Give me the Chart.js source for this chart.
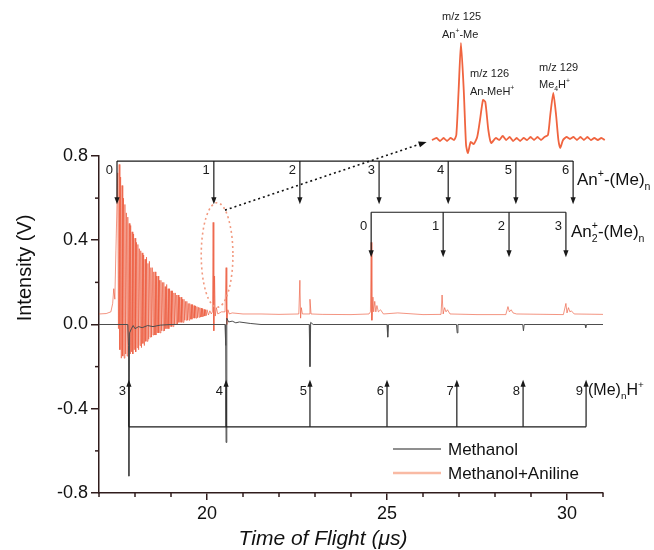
<!DOCTYPE html>
<html>
<head>
<meta charset="utf-8">
<script src="https://cdn.jsdelivr.net/npm/chart.js@4.4.1/dist/chart.umd.min.js"></script>
<style>
  body { margin: 0; background: #fff; }
  #wrap { position: relative; width: 654px; height: 550px; }
  #mainChart { position: absolute; left: 0; top: 0; }
  #insetChart { position: absolute; left: 425px; top: 0; }
</style>
</head>
<body>
<div id="wrap">
  <canvas id="mainChart" width="654" height="550"></canvas>
  <canvas id="insetChart" width="190" height="160"></canvas>
</div>
<script>
// ---- data ----
const methanolTime = [17.0, 17.5, 17.8, 17.82, 17.83, 17.85, 17.9, 17.95, 18.0, 18.1, 18.2, 18.35, 18.5, 18.7, 19.0, 20.5,
  20.52, 20.53, 20.55, 20.6, 20.7, 20.8, 20.9, 21.2, 21.5, 22.84, 22.86, 22.88, 22.95, 25.0, 25.02, 25.04,
  26.93, 26.95, 26.97, 28.77, 28.79, 28.81, 30.5, 30.52, 30.54, 31.0];
const methanolIntensity = [0.0, 0.0, 0.0, -0.1, -0.72, -0.04, -0.02, -0.005, -0.02, -0.01, -0.015, -0.005, -0.01, -0.003, 0.0, 0.0,
  -0.1, -0.56, 0.03, 0.012, 0.016, 0.008, 0.012, 0.005, 0.0, 0.0, -0.2, 0.01, 0.0, 0.0, -0.06, 0.0,
  0.0, -0.04, 0.0, 0.0, -0.03, 0.0, 0.0, -0.015, 0.0, 0.0];

// rising edge, ringing (17.52-19.98) and the later peaks
const anilineTime = [17.0, 17.2, 17.33, 17.38, 17.41, 17.44, 17.47,
  17.52, 17.54, 17.56, 17.58, 17.60, 17.62, 17.64, 17.66, 17.68, 17.70, 17.72, 17.74, 17.76, 17.78, 17.80, 17.82,
  17.84, 17.86, 17.88, 17.90, 17.92, 17.94, 17.96, 17.98, 18.00, 18.02, 18.04, 18.06, 18.08, 18.10, 18.12, 18.14,
  18.16, 18.18, 18.20, 18.22, 18.24, 18.26, 18.28, 18.30, 18.32, 18.34, 18.36, 18.38, 18.40, 18.42, 18.44, 18.46,
  18.48, 18.50, 18.52, 18.54, 18.56, 18.58, 18.60, 18.62, 18.64, 18.66, 18.68, 18.70, 18.72, 18.74, 18.76, 18.78,
  18.80, 18.82, 18.84, 18.86, 18.88, 18.90, 18.92, 18.94, 18.96, 18.98, 19.00, 19.02, 19.04, 19.06, 19.08, 19.10,
  19.12, 19.14, 19.16, 19.18, 19.20, 19.22, 19.24, 19.26, 19.28, 19.30, 19.32, 19.34, 19.36, 19.38, 19.40, 19.42,
  19.44, 19.46, 19.48, 19.50, 19.52, 19.54, 19.56, 19.58, 19.60, 19.62, 19.64, 19.66, 19.68, 19.70, 19.72, 19.74,
  19.76, 19.78, 19.80, 19.82, 19.84, 19.86, 19.88, 19.90, 19.92, 19.94, 19.96, 19.98,
  20.0, 20.04, 20.08, 20.12, 20.15, 20.17, 20.19, 20.21, 20.23, 20.26, 20.3, 20.4, 20.5, 20.53, 20.55, 20.58, 20.62, 20.7,
  21.0, 21.5, 22.0, 22.55, 22.58, 22.60, 22.62, 22.65, 22.84, 22.86, 22.89, 23.2, 24.0, 24.5, 24.54, 24.56, 24.58,
  24.61, 24.63, 24.66, 24.69, 24.72, 24.76, 24.82, 24.9, 25.3, 26.0, 26.5, 26.53, 26.56, 26.6, 26.64, 26.68, 26.75,
  27.5, 28.3, 28.36, 28.4, 28.45, 28.5, 28.6, 29.9, 29.97, 30.0, 30.04, 30.08, 30.12, 30.2, 31.0];
const anilineIntensity = [0.05, 0.052, 0.06, 0.10, 0.17, 0.12, 0.35,
  0.72, -0.02, 0.76, -0.12, 0.70, -0.16, 0.66, -0.15, 0.60, -0.16, 0.57, -0.14, 0.53, -0.15, 0.51, -0.13,
  0.48, -0.14, 0.47, -0.13, 0.44, -0.14, 0.43, -0.12, 0.41, -0.13, 0.39, -0.11, 0.38, -0.12, 0.36, -0.10,
  0.35, -0.11, 0.34, -0.09, 0.33, -0.10, 0.31, -0.08, 0.32, -0.08, 0.29, -0.07, 0.30, -0.06, 0.27, -0.06,
  0.27, -0.05, 0.25, -0.05, 0.25, -0.05, 0.23, -0.04, 0.23, -0.04, 0.21, -0.04, 0.21, -0.03, 0.20, -0.03,
  0.20, -0.03, 0.18, -0.02, 0.19, -0.02, 0.17, -0.02, 0.17, -0.01, 0.16, -0.01, 0.16, -0.01, 0.15, 0.0,
  0.15, 0.0, 0.14, 0.0, 0.14, 0.01, 0.13, 0.01, 0.13, 0.01, 0.12, 0.01, 0.12, 0.02, 0.11, 0.02,
  0.11, 0.02, 0.10, 0.02, 0.10, 0.025, 0.095, 0.025, 0.095, 0.03, 0.09, 0.03, 0.088, 0.03, 0.085, 0.032,
  0.082, 0.034, 0.08, 0.035, 0.078, 0.036, 0.075, 0.038, 0.072, 0.04, 0.07, 0.042,
  0.07, 0.045, 0.065, 0.05, 0.06, 0.485, -0.03, 0.23, 0.04, 0.08, 0.05, 0.06, 0.06, 0.27, 0.0, 0.07, 0.05, 0.055,
  0.05, 0.05, 0.048, 0.05, 0.21, 0.03, 0.08, 0.05, 0.05, 0.12, 0.05, 0.048, 0.047, 0.05, 0.06, 0.39, 0.02,
  0.13, 0.06, 0.11, 0.06, 0.09, 0.06, 0.07, 0.05, 0.055, 0.047, 0.048, 0.14, 0.05, 0.08, 0.06, 0.07, 0.05,
  0.047, 0.047, 0.085, 0.06, 0.07, 0.055, 0.05, 0.047, 0.10, 0.055, 0.08, 0.06, 0.065, 0.05, 0.048];

// zoomed inset (m/z axis)
const insetMz = [123.75, 123.95, 124.1, 124.25, 124.4, 124.55, 124.7, 124.8, 124.9, 125.0, 125.12, 125.22, 125.3, 125.42,
  125.55, 125.7, 125.82, 125.95, 126.05, 126.18, 126.3, 126.5, 126.65, 126.8, 126.95, 127.1, 127.25, 127.4, 127.55,
  127.7, 127.85, 128.0, 128.15, 128.3, 128.45, 128.6, 128.75, 128.85, 128.98, 129.1, 129.2, 129.28, 129.4, 129.55,
  129.7, 129.85, 130.0, 130.15, 130.3, 130.45, 130.6, 130.75, 130.9, 131.05, 131.2];
const insetIntensity = [0.0, 0.02, -0.01, 0.02, -0.01, 0.02, 0.0, 0.05, 0.5, 0.97, 0.5, -0.05, -0.13, -0.02,
  -0.04, 0.03, 0.2, 0.4, 0.38, 0.1, -0.03, 0.02, 0.0, 0.04, 0.0, 0.03, -0.01, 0.02, -0.01,
  0.02, 0.0, 0.03, 0.0, 0.03, 0.0, 0.03, 0.05, 0.25, 0.47, 0.25, 0.0, -0.08, 0.0, 0.03,
  0.01, 0.03, 0.0, 0.03, 0.0, 0.03, 0.0, 0.02, 0.0, 0.02, 0.0];

// assignment ladders (time of flight, us)
const anPlusTimes = [17.5, 20.19, 22.58, 24.78, 26.7, 28.58, 30.17];
const anPlusLabels = ['0', '1', '2', '3', '4', '5', '6'];
const an2PlusTimes = [24.56, 26.56, 28.39, 29.97];
const an2PlusLabels = ['0', '1', '2', '3'];
const meHTimes = [17.83, 20.53, 22.86, 25.0, 26.94, 28.78, 30.53];
const meHLabels = ['3', '4', '5', '6', '7', '8', '9'];

const xMajorTicks = [20, 25, 30];
const yMajorTicks = [-0.8, -0.4, 0.0, 0.4, 0.8];

const FONT = '"Liberation Sans", Arial, sans-serif';
const AXIS = '#301c1c';

function toPts(xs, ys) { return xs.map((v, i) => ({ x: v, y: ys[i] })); }

// text with sub/superscripts; parts: {t, s: 0 normal, 1 sup, -1 sub, st: stacked sup}
function rich(ctx, parts, x, y, size) {
  let cx = x;
  ctx.textAlign = 'left';
  ctx.textBaseline = 'alphabetic';
  for (const p of parts) {
    if (!p.s) {
      ctx.font = size + 'px ' + FONT;
      ctx.fillText(p.t, cx, y);
      cx += ctx.measureText(p.t).width;
    } else {
      ctx.font = (size * 0.62) + 'px ' + FONT;
      const dy = p.s > 0 ? -size * 0.45 : size * 0.28;
      ctx.fillText(p.t, cx, y + dy);
      let w = ctx.measureText(p.t).width;
      if (p.st) {
        ctx.fillText(p.st, cx, y - size * 0.45);
        w = Math.max(w, ctx.measureText(p.st).width);
      }
      cx += w;
    }
  }
}

function arrowHead(ctx, x, y, dir) {
  // dir 1 = pointing down, -1 = pointing up
  ctx.beginPath();
  ctx.moveTo(x, y);
  ctx.lineTo(x - 2.6, y - 7 * dir);
  ctx.lineTo(x + 2.6, y - 7 * dir);
  ctx.closePath();
  ctx.fill();
}

function ladder(ctx, xs, yLine, yTip, labels, yLabel, off) {
  ctx.strokeStyle = '#1a1a1a';
  ctx.fillStyle = '#1a1a1a';
  ctx.lineWidth = 1.2;
  ctx.beginPath();
  ctx.moveTo(xs[0], yLine);
  ctx.lineTo(xs[xs.length - 1], yLine);
  ctx.stroke();
  const dir = yTip > yLine ? 1 : -1;
  xs.forEach((px, i) => {
    ctx.beginPath();
    ctx.moveTo(px, yLine);
    ctx.lineTo(px, yTip - 3 * dir);
    ctx.stroke();
    arrowHead(ctx, px, yTip, dir);
    ctx.font = '13px ' + FONT;
    ctx.textAlign = 'right';
    ctx.textBaseline = 'middle';
    ctx.fillText(labels[i], px - off, yLabel);
  });
}

const annotations = {
  id: 'annotations',
  afterDraw(chart) {
    const { ctx, scales: { x, y }, chartArea } = chart;
    const X = v => x.getPixelForValue(v);
    const Y = v => y.getPixelForValue(v);
    ctx.save();

    // minor ticks
    ctx.strokeStyle = AXIS;
    ctx.lineWidth = 1.5;
    for (let v = 17; v <= 31; v++) {
      if (xMajorTicks.includes(v)) continue;
      ctx.beginPath();
      ctx.moveTo(X(v), chartArea.bottom);
      ctx.lineTo(X(v), chartArea.bottom + 4);
      ctx.stroke();
    }
    [-0.6, -0.2, 0.2, 0.6].forEach(v => {
      ctx.beginPath();
      ctx.moveTo(chartArea.left, Y(v));
      ctx.lineTo(chartArea.left - 4, Y(v));
      ctx.stroke();
    });

    // ladders
    ladder(ctx, anPlusTimes.map(X), Y(0.776), Y(0.571), anPlusLabels, Y(0.733), 4);
    ladder(ctx, an2PlusTimes.map(X), Y(0.533), Y(0.319), an2PlusLabels, Y(0.467), 4);
    ladder(ctx, meHTimes.map(X), Y(-0.486), Y(-0.262), meHLabels, Y(-0.32), 3);

    ctx.fillStyle = '#111';
    rich(ctx, [{ t: 'An' }, { t: '+', s: 1 }, { t: '-(Me)' }, { t: 'n', s: -1 }], 577, 185, 17);
    rich(ctx, [{ t: 'An' }, { t: '2', s: -1, st: '+' }, { t: '-(Me)' }, { t: 'n', s: -1 }], 571, 237, 17);
    rich(ctx, [{ t: '(Me)' }, { t: 'n', s: -1 }, { t: 'H' }, { t: '+', s: 1 }], 588, 395, 16);

    // dotted ellipse round the An-Me peaks
    ctx.setLineDash([2, 3]);
    ctx.strokeStyle = '#f29a80';
    ctx.lineWidth = 1.6;
    ctx.beginPath();
    const cx = X(20.28), cy = Y(0.33);
    ctx.ellipse(cx, cy, X(20.72) - cx, cy - Y(0.578), 0, 0, Math.PI * 2);
    ctx.stroke();

    // dotted arrow to the inset
    const x1 = X(20.5), y1 = Y(0.543), x2 = X(26.1), y2 = Y(0.867);
    ctx.strokeStyle = '#111';
    ctx.lineWidth = 1.6;
    ctx.beginPath();
    ctx.moveTo(x1, y1);
    ctx.lineTo(x2 - 6, y2 + 2);
    ctx.stroke();
    ctx.setLineDash([]);
    const ang = Math.atan2(y2 - y1, x2 - x1);
    ctx.fillStyle = '#111';
    ctx.beginPath();
    ctx.moveTo(x2, y2);
    ctx.lineTo(x2 - 8 * Math.cos(ang) + 3 * Math.sin(ang), y2 - 8 * Math.sin(ang) - 3 * Math.cos(ang));
    ctx.lineTo(x2 - 8 * Math.cos(ang) - 3 * Math.sin(ang), y2 - 8 * Math.sin(ang) + 3 * Math.cos(ang));
    ctx.closePath();
    ctx.fill();

    // axis titles
    ctx.fillStyle = '#111';
    ctx.save();
    ctx.translate(25, 268);
    ctx.rotate(-Math.PI / 2);
    ctx.font = '20px ' + FONT;
    ctx.textAlign = 'center';
    ctx.textBaseline = 'middle';
    ctx.fillText('Intensity (V)', 0, 0);
    ctx.restore();
    ctx.font = 'italic 21px ' + FONT;
    ctx.textAlign = 'center';
    ctx.textBaseline = 'alphabetic';
    ctx.fillText('Time of Flight (\u03bcs)', 323, 545);

    // legend
    const items = [
      { label: 'Methanol', color: '#6a6a6a', w: 1.5, y: 449 },
      { label: 'Methanol+Aniline', color: '#f9baa4', w: 2.5, y: 473 }
    ];
    items.forEach(it => {
      ctx.strokeStyle = it.color;
      ctx.lineWidth = it.w;
      ctx.beginPath();
      ctx.moveTo(393, it.y);
      ctx.lineTo(441, it.y);
      ctx.stroke();
      ctx.fillStyle = '#111';
      ctx.font = '17px ' + FONT;
      ctx.textAlign = 'left';
      ctx.textBaseline = 'middle';
      ctx.fillText(it.label, 448, it.y + 1);
    });
    ctx.restore();
  }
};

new Chart(document.getElementById('mainChart'), {
  type: 'line',
  data: {
    datasets: [
      {
        label: 'Methanol',
        data: toPts(methanolTime, methanolIntensity),
        borderColor: '#4d4d4d',
        borderWidth: 1,
        pointRadius: 0,
        tension: 0
      },
      {
        label: 'Methanol+Aniline',
        data: toPts(anilineTime, anilineIntensity),
        borderColor: 'rgba(236,84,54,0.62)',
        borderWidth: 1,
        pointRadius: 0,
        tension: 0
      }
    ]
  },
  options: {
    responsive: false,
    animation: false,
    devicePixelRatio: 1,
    layout: { padding: { top: 156, right: 51, left: 0, bottom: 0 } },
    plugins: { legend: { display: false }, tooltip: { enabled: false } },
    scales: {
      x: {
        type: 'linear',
        min: 17,
        max: 31,
        afterFit: s => { s.height = 57; },
        border: { color: AXIS, width: 1.5 },
        grid: {
          drawOnChartArea: false,
          tickLength: 7,
          lineWidth: 1.5,
          tickColor: c => (c.tick && xMajorTicks.includes(c.tick.value)) ? AXIS : 'rgba(0,0,0,0)'
        },
        ticks: {
          stepSize: 1,
          autoSkip: false,
          maxRotation: 0,
          padding: 3,
          color: '#111',
          font: { family: FONT, size: 18 },
          callback: v => xMajorTicks.includes(v) ? String(v) : ''
        }
      },
      y: {
        min: -0.8,
        max: 0.8,
        afterFit: s => { s.width = 99; },
        border: { color: AXIS, width: 1.5 },
        grid: {
          drawOnChartArea: false,
          tickLength: 8,
          lineWidth: 1.5,
          tickColor: c => (c.tick && Math.round(c.tick.value * 10) % 4 === 0) ? AXIS : 'rgba(0,0,0,0)'
        },
        ticks: {
          stepSize: 0.2,
          autoSkip: false,
          padding: 3,
          color: '#111',
          font: { family: FONT, size: 18 },
          callback: v => {
            const r = Math.round(v * 10);
            return yMajorTicks.some(t => Math.round(t * 10) === r) ? (r / 10).toFixed(1) : '';
          }
        }
      }
    }
  },
  plugins: [annotations]
});

// inset labels
const insetLabels = {
  id: 'insetLabels',
  afterDraw(chart) {
    const ctx = chart.ctx;
    ctx.save();
    ctx.fillStyle = '#222';
    rich(ctx, [{ t: 'm/z 125' }], 17, 20, 11);
    rich(ctx, [{ t: 'An' }, { t: '+', s: 1 }, { t: '-Me' }], 17, 38, 11);
    rich(ctx, [{ t: 'm/z 126' }], 45, 77, 11);
    rich(ctx, [{ t: 'An-MeH' }, { t: '+', s: 1 }], 45, 95, 11);
    rich(ctx, [{ t: 'm/z 129' }], 114, 71, 11);
    rich(ctx, [{ t: 'Me' }, { t: '4', s: -1 }, { t: 'H' }, { t: '+', s: 1 }], 114, 88, 11);
    ctx.restore();
  }
};

new Chart(document.getElementById('insetChart'), {
  type: 'line',
  data: {
    datasets: [{
      data: toPts(insetMz, insetIntensity),
      borderColor: '#f0643f',
      borderWidth: 1.8,
      pointRadius: 0,
      tension: 0.2,
      clip: false
    }]
  },
  options: {
    responsive: false,
    animation: false,
    devicePixelRatio: 1,
    layout: { padding: 0 },
    plugins: { legend: { display: false }, tooltip: { enabled: false } },
    scales: {
      x: { type: 'linear', min: 123.45, max: 131.64, display: false },
      y: { min: -0.2, max: 1.4, display: false }
    }
  },
  plugins: [insetLabels]
});
</script>
</body>
</html>
